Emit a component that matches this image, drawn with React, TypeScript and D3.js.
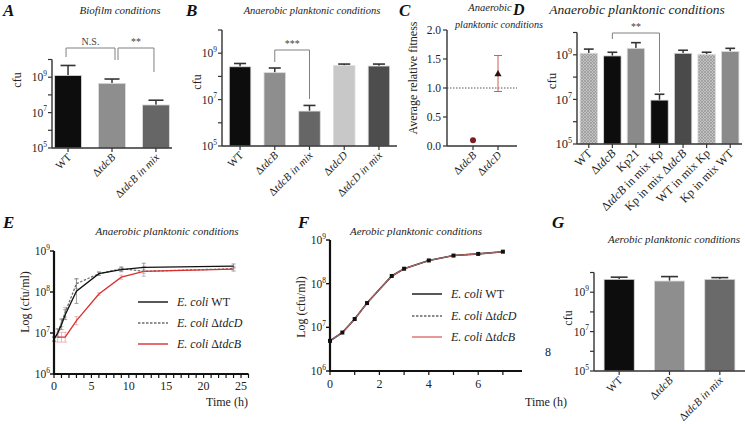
import React, { useEffect, useRef } from 'react';
import * as d3 from 'd3';

const FONT = "'Liberation Serif', 'DejaVu Serif', serif";

// Panel A - biofilm
const aCats = ['WT', 'ΔtdcB', 'ΔtdcB in mix'];
const aVals = [1.26e9, 4.5e8, 2.7e7];
const aErrTop = [4.6e9, 7.9e8, 5.0e7];
const aFills = ['#0d0d0d', '#8e8e8e', '#666666'];

// Panel B - anaerobic planktonic
const bCats = ['WT', 'ΔtdcB', 'ΔtdcB in mix', 'ΔtdcD', 'ΔtdcD in mix'];
const bVals = [2.6e8, 1.45e8, 3.2e6, 2.9e8, 2.8e8];
const bErrTop = [3.6e8, 2.3e8, 5.6e6, 3.4e8, 3.4e8];
const bFills = ['#0d0d0d', '#8e8e8e', '#666666', '#c8c8c8', '#4d4d4d'];

// Panel C - relative fitness
const cCats = ['ΔtdcB', 'ΔtdcD'];
const cVals = [0.1, 1.24];
const cErrLow = [0.1, 0.94];
const cErrHigh = [0.1, 1.56];
const cTicks = [0, 0.5, 1, 1.5, 2];

// Panel D - co-culture with Kp
const dCats = ['WT', 'ΔtdcB', 'Kp21', 'ΔtdcB in mix Kp', 'Kp in mix ΔtdcB', 'WT in mix Kp', 'Kp in mix WT'];
const dVals = [1.17e9, 8.9e8, 1.95e9, 9.3e6, 1.17e9, 1.05e9, 1.4e9];
const dErrTop = [1.8e9, 1.3e9, 3.5e9, 1.7e7, 1.6e9, 1.3e9, 1.95e9];
const dFills = ['url(#hatch)', '#0d0d0d', '#8a8a8a', '#0d0d0d', '#4a4a4a', 'url(#hatch)', '#8a8a8a'];

// Panel E - anaerobic growth curves
const eTimeWT = [0, 0.5, 1, 1.5, 3, 6, 9, 12, 24];
const eWT = [7.1e6, 1.0e7, 1.6e7, 2.8e7, 1.05e8, 2.8e8, 3.5e8, 4.0e8, 4.3e8];
const eWTErr = [0.05, 0.1, 0.12, 0.12, 0.3, 0.04, 0.05, 0.1, 0.05];
const eTimeD = [0, 0.5, 1, 1.5, 3, 6, 9, 12, 24];
const eTdcD = [7.1e6, 1.0e7, 1.8e7, 3.2e7, 1.6e8, 2.8e8, 3.7e8, 3.2e8, 3.7e8];
const eTdcDErr = [0.05, 0.1, 0.1, 0.12, 0.12, 0.04, 0.05, 0.12, 0.05];
const eTimeB = [0.5, 1, 1.5, 3, 6, 9, 12, 24];
const eTdcB = [7.9e6, 7.9e6, 7.9e6, 2.0e7, 8.9e7, 2.3e8, 3.2e8, 3.6e8];
const eTdcBErr = [0.12, 0.12, 0.12, 0.1, 0.03, 0.05, 0.05, 0.05];
const eXTicks = [0, 5, 10, 15, 20, 25];

// Panel F - aerobic growth curves
const fTime = [0, 0.5, 1, 1.5, 2.5, 3, 4, 5, 6, 7];
const fWT = [4.9e6, 7.6e6, 1.55e7, 3.6e7, 1.5e8, 2.2e8, 3.4e8, 4.4e8, 4.8e8, 5.4e8];
const fTdcD = [4.9e6, 7.6e6, 1.55e7, 3.6e7, 1.5e8, 2.2e8, 3.4e8, 4.4e8, 4.8e8, 5.4e8];
const fTdcB = [4.9e6, 7.6e6, 1.55e7, 3.6e7, 1.5e8, 2.2e8, 3.4e8, 4.4e8, 4.8e8, 5.4e8];
const fXTicks = [0, 2, 4, 6];

// Panel G - aerobic planktonic
const gCats = ['WT', 'ΔtdcB', 'ΔtdcB in mix'];
const gVals = [4.5e9, 3.7e9, 4.5e9];
const gErrTop = [5.8e9, 6.2e9, 5.5e9];
const gFills = ['#0d0d0d', '#8e8e8e', '#6a6a6a'];

type Sel = d3.Selection<any, any, any, any>;

// write a label with the gene names in italics
function richLabel(t: Sel, label: string, mixItalic: boolean) {
  label.split(/(tdc[BD])/).filter(s => s.length).forEach(part => {
    const it = /^tdc[BD]$/.test(part) || (mixItalic && part.includes('in mix'));
    t.append('tspan').attr('font-style', it ? 'italic' : 'normal').text(part);
  });
}

function powLabel(g: Sel, x: number, y: number, exp: number, fs = 11.5) {
  const t = g.append('text').attr('x', x).attr('y', y + fs * 0.35).attr('text-anchor', 'end')
    .attr('font-size', fs).attr('fill', '#222');
  t.append('tspan').text('10');
  t.append('tspan').attr('dy', -fs * 0.45).attr('font-size', fs * 0.65).text(String(exp));
}

function barPanel(svg: Sel, cfg: any) {
  const { x0, x1, yTop, yBot, cats, vals, errs, fills, pi, po, mixItalic, ylabX, ylabY, fs = 11 } = cfg;
  const y = d3.scaleLog().domain([1e5, 1e10]).range([yBot, yTop]);
  const x = d3.scaleBand<string>().domain(cats).range([x0, x1]).paddingInner(pi).paddingOuter(po);
  const g = svg.append('g');
  const bw = x.bandwidth();

  // error bars (drawn first, bar covers the lower half)
  cats.forEach((c: string, i: number) => {
    const cx = x(c)! + bw / 2;
    g.append('line').attr('x1', cx).attr('x2', cx).attr('y1', y(vals[i])).attr('y2', y(errs[i]))
      .attr('stroke', '#333').attr('stroke-width', 1.5);
    g.append('line').attr('x1', cx - bw * 0.28).attr('x2', cx + bw * 0.28)
      .attr('y1', y(errs[i])).attr('y2', y(errs[i])).attr('stroke', '#333').attr('stroke-width', 1.6);
  });

  g.selectAll('rect.bar').data(cats).join('rect')
    .attr('x', (d: any) => x(d)!)
    .attr('y', (_d: any, i: number) => y(vals[i]))
    .attr('width', bw)
    .attr('height', (_d: any, i: number) => yBot - y(vals[i]))
    .attr('fill', (_d: any, i: number) => fills[i])
    .attr('stroke', '#dcdcdc').attr('stroke-width', 0.8);

  // axes
  g.append('line').attr('x1', x0).attr('x2', x0).attr('y1', yBot).attr('y2', yTop)
    .attr('stroke', '#333').attr('stroke-width', 1.4);
  g.append('line').attr('x1', x0).attr('x2', x1).attr('y1', yBot).attr('y2', yBot)
    .attr('stroke', '#333').attr('stroke-width', 1.4);
  [5, 6, 7, 8, 9, 10].forEach(e => {
    const yy = y(Math.pow(10, e));
    g.append('line').attr('x1', x0 - 4).attr('x2', x0).attr('y1', yy).attr('y2', yy)
      .attr('stroke', '#333').attr('stroke-width', 1.2);
    if (e % 2 === 1 && e < 10) powLabel(g, x0 - 5, yy, e, fs + 0.5);
  });
  cats.forEach((c: string) => {
    const cx = x(c)! + bw / 2;
    g.append('line').attr('x1', cx).attr('x2', cx).attr('y1', yBot).attr('y2', yBot + 4)
      .attr('stroke', '#333').attr('stroke-width', 1.2);
    const t = g.append('text').attr('text-anchor', 'end').attr('font-size', fs).attr('fill', '#222')
      .attr('transform', `translate(${cx + 4},${yBot + 10}) rotate(-45)`);
    richLabel(t, c, mixItalic);
  });
  g.append('text').attr('transform', `translate(${ylabX},${ylabY}) rotate(-90)`)
    .attr('text-anchor', 'middle').attr('font-size', fs + 1).attr('fill', '#222').text('cfu');
  return { x, y, g };
}

function bracket(g: Sel, xa: number, xb: number, top: number, la: number, lb: number, label: string) {
  g.append('path').attr('d', `M${xa},${la}V${top}H${xb}V${lb}`).attr('fill', 'none')
    .attr('stroke', '#808080').attr('stroke-width', 1);
  g.append('text').attr('x', (xa + xb) / 2).attr('y', top - 3).attr('text-anchor', 'middle')
    .attr('font-size', 10).attr('fill', '#444').text(label);
}

function title(svg: Sel, x: number, y: number, s: string, fs = 11) {
  svg.append('text').attr('x', x).attr('y', y).attr('text-anchor', 'middle').attr('font-style', 'italic')
    .attr('font-size', fs).attr('fill', '#222').text(s);
}

function letter(svg: Sel, x: number, y: number, s: string, fs = 17) {
  svg.append('text').attr('x', x).attr('y', y).attr('font-weight', 'bold').attr('font-style', 'italic')
    .attr('font-size', fs).attr('fill', '#111').text(s);
}

function legendRow(g: Sel, x: number, y: number, color: string, dash: string | null, strain: string) {
  g.append('line').attr('x1', x).attr('x2', x + 30).attr('y1', y).attr('y2', y)
    .attr('stroke', color).attr('stroke-width', 1.4).attr('stroke-dasharray', dash);
  const t = g.append('text').attr('x', x + 39).attr('y', y + 4).attr('font-size', 12).attr('fill', '#222');
  t.append('tspan').attr('font-style', 'italic').text('E. coli ');
  richLabel(t, strain, false);
}

const App: React.FC = () => {
  const ref = useRef<SVGSVGElement>(null);

  useEffect(() => {
    if (!ref.current) return;
    const svg = d3.select(ref.current);
    svg.selectAll('*').remove();
    svg.style('font-family', FONT);

    // hatch pattern for WT bars in D
    const pat = svg.append('defs').append('pattern').attr('id', 'hatch')
      .attr('patternUnits', 'userSpaceOnUse').attr('width', 3).attr('height', 3);
    pat.append('rect').attr('width', 3).attr('height', 3).attr('fill', '#c2c2c2');
    pat.append('path').attr('d', 'M0,3L3,0M0,0L3,3').attr('stroke', '#8e8e8e').attr('stroke-width', 0.6);

    // ---- A
    letter(svg, 3, 16, 'A');
    title(svg, 120, 14, 'Biofilm conditions');
    const A = barPanel(svg, { x0: 52, x1: 172, yTop: 59.5, yBot: 148, cats: aCats, vals: aVals, errs: aErrTop,
      fills: aFills, pi: 0.39, po: 0.06, mixItalic: true, ylabX: 21, ylabY: 80 });
    const ac = (c: string) => A.x(c)! + A.x.bandwidth() / 2;
    bracket(A.g, ac('WT') - 2, ac('ΔtdcB') + 3, 48, 57, 60, 'N.S.');
    bracket(A.g, ac('ΔtdcB') + 6, ac('ΔtdcB in mix') - 2, 48, 60, 72, '**');

    // ---- B
    letter(svg, 186, 16, 'B');
    title(svg, 312, 14, 'Anaerobic planktonic conditions', 10.5);
    const B = barPanel(svg, { x0: 222, x1: 397, yTop: 30, yBot: 146, cats: bCats, vals: bVals, errs: bErrTop,
      fills: bFills, pi: 0.38, po: 0.21, mixItalic: true, ylabX: 201, ylabY: 82 });
    const bc = (c: string) => B.x(c)! + B.x.bandwidth() / 2;
    bracket(B.g, bc('ΔtdcB'), bc('ΔtdcB in mix'), 50, 62, 99, '***');

    // ---- C
    letter(svg, 399, 16, 'C');
    title(svg, 490, 11, 'Anaerobic', 10.5);
    title(svg, 499, 27.5, 'planktonic conditions', 10.2);
    {
      const g = svg.append('g');
      const y = d3.scaleLinear().domain([0, 2]).range([146, 30]);
      const x = d3.scalePoint<string>().domain(cCats).range([473, 498]);
      g.append('line').attr('x1', 447).attr('x2', 517).attr('y1', y(1)).attr('y2', y(1))
        .attr('stroke', '#555').attr('stroke-width', 1).attr('stroke-dasharray', '1.5,1.5');
      g.append('line').attr('x1', 447).attr('x2', 447).attr('y1', 146).attr('y2', 30)
        .attr('stroke', '#333').attr('stroke-width', 1.4);
      g.append('line').attr('x1', 447).attr('x2', 517).attr('y1', 146).attr('y2', 146)
        .attr('stroke', '#333').attr('stroke-width', 1.4);
      cTicks.forEach(v => {
        g.append('line').attr('x1', 443).attr('x2', 447).attr('y1', y(v)).attr('y2', y(v))
          .attr('stroke', '#333').attr('stroke-width', 1.2);
        g.append('text').attr('x', 441).attr('y', y(v) + 4).attr('text-anchor', 'end')
          .attr('font-size', 11.5).attr('fill', '#222').text(v.toFixed(1));
      });
      cCats.forEach((c, i) => {
        const cx = x(c)!;
        g.append('line').attr('x1', cx).attr('x2', cx).attr('y1', 146).attr('y2', 150)
          .attr('stroke', '#333').attr('stroke-width', 1.2);
        const t = g.append('text').attr('text-anchor', 'end').attr('font-size', 11).attr('fill', '#222')
          .attr('transform', `translate(${cx + 4},${156}) rotate(-45)`);
        richLabel(t, c, false);
        if (cErrHigh[i] > cErrLow[i]) {
          const col = '#d05a5a';
          g.append('line').attr('x1', cx).attr('x2', cx).attr('y1', y(cErrLow[i])).attr('y2', y(cErrHigh[i]))
            .attr('stroke', col).attr('stroke-width', 1);
          [cErrLow[i], cErrHigh[i]].forEach(v => g.append('line').attr('x1', cx - 4).attr('x2', cx + 4)
            .attr('y1', y(v)).attr('y2', y(v)).attr('stroke', col).attr('stroke-width', 1));
        }
      });
      g.append('circle').attr('cx', x('ΔtdcB')!).attr('cy', y(cVals[0])).attr('r', 3).attr('fill', '#7a1c22');
      g.append('path').attr('d', d3.symbol(d3.symbolTriangle, 22)())
        .attr('transform', `translate(${x('ΔtdcD')},${y(cVals[1])})`).attr('fill', '#2a1414');
      g.append('text').attr('transform', `translate(417,78) rotate(-90)`).attr('text-anchor', 'middle')
        .attr('font-size', 12).attr('fill', '#222').text('Average relative fitness');
    }

    // ---- D
    letter(svg, 513, 15, 'D', 16);
    title(svg, 637, 14, 'Anaerobic planktonic conditions', 13.5);
    const D = barPanel(svg, { x0: 577, x1: 742, yTop: 32.5, yBot: 144, cats: dCats, vals: dVals, errs: dErrTop,
      fills: dFills, pi: 0.26, po: 0.13, mixItalic: false, ylabX: 556, ylabY: 81, fs: 12 });
    const dc = (c: string) => D.x(c)! + D.x.bandwidth() / 2;
    bracket(D.g, dc('ΔtdcB'), dc('ΔtdcB in mix Kp'), 33, 39, 92, '**');

    // ---- E
    letter(svg, 3, 228, 'E');
    title(svg, 167, 235, 'Anaerobic planktonic conditions');
    {
      const g = svg.append('g');
      const x = d3.scaleLinear().domain([0, 26]).range([54, 248.5]);
      const y = d3.scaleLog().domain([1e6, 1e9]).range([374, 251]);
      const line = d3.line<[number, number]>().x(d => x(d[0])).y(d => y(d[1]));
      const series = [
        { t: eTimeD, v: eTdcD, e: eTdcDErr, c: '#6e6e6e', dash: '2.5,1.5', ec: '#a0a0a0' },
        { t: eTimeB, v: eTdcB, e: eTdcBErr, c: '#d9302f', dash: null, ec: '#e89a9a' },
        { t: eTimeWT, v: eWT, e: eWTErr, c: '#111', dash: null, ec: '#777' },
      ];
      series.forEach(s => {
        s.t.forEach((tt, i) => {
          const lo = y(s.v[i] / Math.pow(10, s.e[i])), hi = y(s.v[i] * Math.pow(10, s.e[i]));
          g.append('path').attr('d', `M${x(tt)},${lo}V${hi}M${x(tt) - 2},${lo}H${x(tt) + 2}M${x(tt) - 2},${hi}H${x(tt) + 2}`)
            .attr('stroke', s.ec).attr('stroke-width', 0.7).attr('fill', 'none');
        });
        g.append('path').attr('d', line(s.t.map((tt, i) => [tt, s.v[i]]))!).attr('fill', 'none')
          .attr('stroke', s.c).attr('stroke-width', 1.3).attr('stroke-dasharray', s.dash);
      });
      g.append('line').attr('x1', 54).attr('x2', 54).attr('y1', 374).attr('y2', 251)
        .attr('stroke', '#111').attr('stroke-width', 2.2);
      g.append('line').attr('x1', 53).attr('x2', 248.5).attr('y1', 374).attr('y2', 374)
        .attr('stroke', '#111').attr('stroke-width', 2.2);
      d3.range(0, 27).forEach(v => g.append('line').attr('x1', x(v)).attr('x2', x(v)).attr('y1', 374)
        .attr('y2', 378).attr('stroke', '#111').attr('stroke-width', 1.2));
      eXTicks.forEach(v => g.append('text').attr('x', x(v)).attr('y', 390).attr('text-anchor', 'middle')
        .attr('font-size', 12).attr('fill', '#222').text(String(v)));
      [6, 7, 8, 9].forEach(e => {
        const yy = y(Math.pow(10, e));
        g.append('line').attr('x1', 50).attr('x2', 54).attr('y1', yy).attr('y2', yy)
          .attr('stroke', '#111').attr('stroke-width', 1.4);
        powLabel(g, 50, yy, e);
      });
      g.append('text').attr('x', 227).attr('y', 406).attr('text-anchor', 'middle').attr('font-size', 12)
        .attr('fill', '#222').text('Time (h)');
      g.append('text').attr('transform', 'translate(29,302) rotate(-90)').attr('text-anchor', 'middle')
        .attr('font-size', 12).attr('fill', '#222').text('Log (cfu/ml)');
      legendRow(g, 138, 302, '#111', null, 'WT');
      legendRow(g, 138, 323, '#6e6e6e', '2.5,1.5', 'ΔtdcD');
      legendRow(g, 138, 344, '#d9302f', null, 'ΔtdcB');
    }

    // ---- F
    letter(svg, 298, 228, 'F');
    title(svg, 416, 235, 'Aerobic planktonic conditions');
    {
      const g = svg.append('g');
      const x = d3.scaleLinear().domain([0, 8]).range([330, 527.6]);
      const y = d3.scaleLog().domain([1e6, 1e9]).range([371, 240]);
      const line = d3.line<[number, number]>().x(d => x(d[0])).y(d => y(d[1]));
      g.append('path').attr('d', line(fTime.map((t, i) => [t, fWT[i]]))!).attr('fill', 'none')
        .attr('stroke', '#111').attr('stroke-width', 1.6);
      g.append('path').attr('d', line(fTime.map((t, i) => [t, fTdcB[i]]))!).attr('fill', 'none')
        .attr('stroke', '#e06a6a').attr('stroke-width', 1.1);
      g.append('path').attr('d', line(fTime.map((t, i) => [t, fTdcD[i]]))!).attr('fill', 'none')
        .attr('stroke', '#666').attr('stroke-width', 0.9).attr('stroke-dasharray', '2,1.5');
      fTime.forEach((t, i) => g.append('rect').attr('x', x(t) - 2).attr('y', y(fWT[i]) - 2)
        .attr('width', 4).attr('height', 4).attr('fill', '#111'));
      g.append('line').attr('x1', 330).attr('x2', 330).attr('y1', 371).attr('y2', 240)
        .attr('stroke', '#111').attr('stroke-width', 2.2);
      g.append('line').attr('x1', 329).attr('x2', 522).attr('y1', 371).attr('y2', 371)
        .attr('stroke', '#111').attr('stroke-width', 2.2);
      d3.range(0, 8).forEach(v => g.append('line').attr('x1', x(v)).attr('x2', x(v)).attr('y1', 371)
        .attr('y2', 375).attr('stroke', '#111').attr('stroke-width', 1.2));
      fXTicks.forEach(v => g.append('text').attr('x', x(v)).attr('y', 388).attr('text-anchor', 'middle')
        .attr('font-size', 12).attr('fill', '#222').text(String(v)));
      g.append('text').attr('x', 548).attr('y', 356).attr('text-anchor', 'middle')
        .attr('font-size', 12).attr('fill', '#222').text('8');
      [6, 7, 8, 9].forEach(e => {
        const yy = y(Math.pow(10, e));
        g.append('line').attr('x1', 326).attr('x2', 330).attr('y1', yy).attr('y2', yy)
          .attr('stroke', '#111').attr('stroke-width', 1.4);
        powLabel(g, 326, yy, e);
      });
      g.append('text').attr('x', 546).attr('y', 406).attr('text-anchor', 'middle').attr('font-size', 12)
        .attr('fill', '#222').text('Time (h)');
      g.append('text').attr('transform', 'translate(305,307) rotate(-90)').attr('text-anchor', 'middle')
        .attr('font-size', 12).attr('fill', '#222').text('Log (cfu/ml)');
      legendRow(g, 412, 294, '#111', null, 'WT');
      legendRow(g, 412, 316, '#666', '2.5,1.5', 'ΔtdcD');
      legendRow(g, 412, 337, '#e06a6a', null, 'ΔtdcB');
    }

    // ---- G
    letter(svg, 552, 228, 'G');
    title(svg, 674, 243, 'Aerobic planktonic conditions');
    barPanel(svg, { x0: 594, x1: 745, yTop: 272.5, yBot: 371, cats: gCats, vals: gVals, errs: gErrTop,
      fills: gFills, pi: 0.4, po: 0.2, mixItalic: true, ylabX: 572, ylabY: 318 });
  }, []);

  return (
    <svg ref={ref} width={745} height={424}
      style={{ position: 'fixed', left: 0, top: 0, background: '#fff' }} />
  );
};

export default App;
